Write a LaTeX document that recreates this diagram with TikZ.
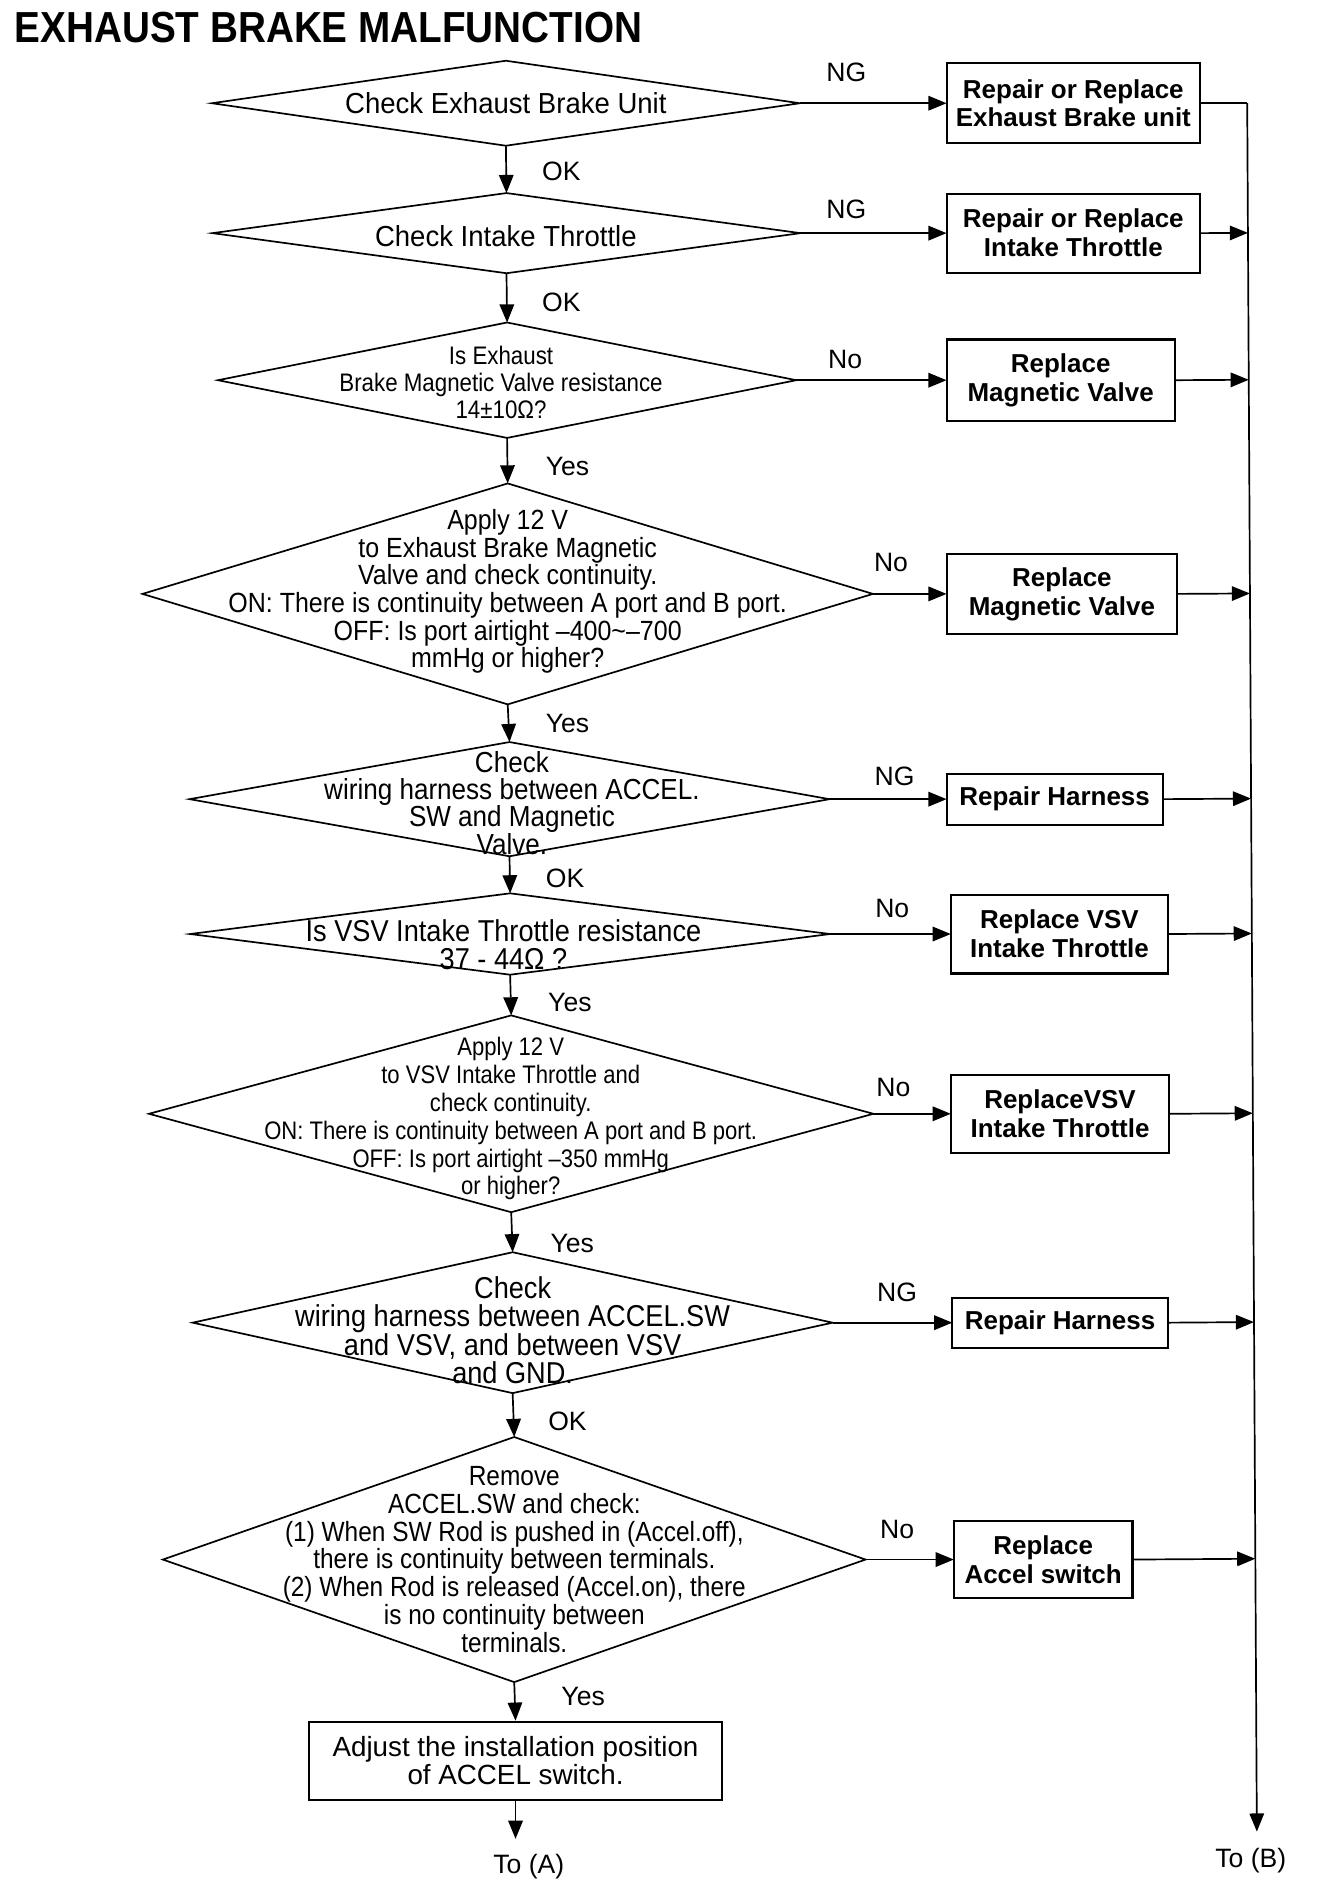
\documentclass[tikz,border=0pt]{standalone}
\usepackage{fontspec}
\setmainfont{Liberation Sans}
\newfontfamily\fA[FakeStretch=0.95]{Liberation Sans}
\newfontfamily\fB[FakeStretch=0.90]{Liberation Sans}
\newfontfamily\fC[FakeStretch=0.88]{Liberation Sans}
\newfontfamily\fD[FakeStretch=0.87]{Liberation Sans}
\newfontfamily\fT[FakeStretch=0.89]{Liberation Sans}
\usetikzlibrary{arrows.meta,shapes.geometric,calc}
\newcommand\fsz[2]{\fontsize{#1}{#2}\selectfont}
\begin{document}
\begin{tikzpicture}[x=1pt,y=-1pt,
  dia/.style={diamond, draw, line width=1.4pt, inner sep=0pt, outer sep=0pt},
  dtxt/.style={inner sep=0pt, align=center},
  box/.style={draw, line width=1.7pt, inner sep=0pt, outer sep=0pt, align=center,
    font=\bfseries\fsz{21.5}{24}},
  ln/.style={line width=1.4pt},
  arr/.style={line width=1.4pt, -{Triangle[length=15pt,width=12pt]}},
  lab/.style={inner sep=0pt, font=\fsz{22}{22}}]
\useasboundingbox (0,0) rectangle (1100,1577);

% title
\node[inner sep=0pt, anchor=west, font=\fT\bfseries\fsz{36}{36}] (title) at (12,23) {EXHAUST BRAKE MALFUNCTION};

% main column decisions
\node[dia, minimum width=487, minimum height=70.4] (d1) at (419,85.5) {};
\node[dtxt, font=\fA\fsz{24}{24}] (t1) at (419,85.5) {Check Exhaust Brake Unit};

\node[dia, minimum width=487, minimum height=66.4] (d2) at (419.5,193.1) {};
\node[dtxt, font=\fA\fsz{24}{24}] (t2) at (419,195.2) {Check Intake Throttle};

\node[dia, minimum width=479, minimum height=95.6] (d3) at (420,314.9) {};
\node[dtxt, font=\fC\fsz{21}{22.6}] (t3) at (415,316.9) {Is Exhaust\\Brake Magnetic Valve resistance\\14±10Ω?};

\node[dia, minimum width=605, minimum height=183] (d4) at (420.5,491.9) {};
\node[dtxt, font=\fB\fsz{23}{22.9}] (t4) at (420.5,489.9) {Apply 12 V\\to Exhaust Brake Magnetic\\Valve and check continuity.\\ON: There is continuity between A port and B port.\\OFF: Is port airtight –400\textasciitilde–700\\mmHg or higher?};

\node[dia, minimum width=530, minimum height=94.6] (d5) at (422,661.9) {};
\node[dtxt, font=\fB\fsz{24}{22.6}] (t5) at (424,664.9) {Check\\wiring harness between ACCEL.\\SW and Magnetic\\Valve.};

\node[dia, minimum width=530, minimum height=67.4] (d6) at (422.5,773.6) {};
\node[dtxt, font=\fB\fsz{25}{23.1}] (t6) at (417,782.7) {Is VSV Intake Throttle resistance\\37 - 44Ω ?};

\node[dia, minimum width=600, minimum height=163] (d7) at (423.4,922.5) {};
\node[dtxt, font=\fD\fsz{21}{23.1}] (t7) at (423,926.5) {Apply 12 V\\to VSV Intake Throttle and\\check continuity.\\ON: There is continuity between A port and B port.\\OFF: Is port airtight –350 mmHg\\or higher?};

\node[dia, minimum width=530, minimum height=116.7] (d8) at (424.6,1095.5) {};
\node[dtxt, font=\fB\fsz{25}{23.1}] (t8) at (424.6,1101.6) {Check\\wiring harness between ACCEL.SW\\and VSV, and between VSV\\and GND.};

\node[dia, minimum width=582, minimum height=203] (d9) at (425.9,1291.7) {};
\node[dtxt, font=\fC\fsz{23}{23.1}] (t9) at (426,1291.7) {Remove\\ACCEL.SW and check:\\(1) When SW Rod is pushed in (Accel.off),\\there is continuity between terminals.\\(2) When Rod is released (Accel.on), there\\is no continuity between\\terminals.};

\node[draw, line width=1.7pt, inner sep=0pt, align=center, minimum width=342, minimum height=65,
  font=\fsz{23}{23}] (fin) at (427,1458.5) {Adjust the installation position\\of ACCEL switch.};

% right boxes
\node[box, minimum width=210, minimum height=66.4] (b1) at (889,85.5) {Repair or Replace\\Exhaust Brake unit};
\node[box, minimum width=210, minimum height=65.4] (b2) at (889,193.1) {Repair or Replace\\Intake Throttle};
\node[box, minimum width=189, minimum height=67.4] (b3) at (878.5,314.9) {Replace\\Magnetic Valve};
\node[box, minimum width=191, minimum height=66.4] (b4) at (879.5,491.9) {Replace\\Magnetic Valve};
\node[box, minimum width=179, minimum height=42.3] (b5) at (873.5,661.9) {Repair Harness};
\node[box, minimum width=180, minimum height=65.4] (b6) at (877.5,773.6) {Replace VSV\\Intake Throttle};
\node[box, minimum width=181, minimum height=64.4] (b7) at (878,922.5) {ReplaceVSV\\Intake Throttle};
\node[box, minimum width=178.5, minimum height=41.2] (b8) at (878,1095.5) {Repair Harness};
\node[box, minimum width=148, minimum height=63.4] (b9) at (864,1291.7) {Replace\\Accel switch};

% vertical flow
\draw[arr] (d1.south) -- (d2.north);
\draw[arr] (d2.south) -- (d3.north);
\draw[arr] (d3.south) -- (d4.north);
\draw[arr] (d4.south) -- (d5.north);
\draw[arr] (d5.south) -- (d6.north);
\draw[arr] (d6.south) -- (d7.north);
\draw[arr] (d7.south) -- (d8.north);
\draw[arr] (d8.south) -- (d9.north);
\draw[arr] (d9.south) -- (fin.north);
\coordinate (toA) at (427,1523);
\draw[arr] (fin.south) -- (toA);
\node[lab] (ta) at (438,1546) {To (A)};

\node[lab] at (465,141.8) {OK};
\node[lab] at (465,250.5) {OK};
\node[lab] at (470,386.3) {Yes};
\node[lab] at (470,599.6) {Yes};
\node[lab] at (468,727.3) {OK};
\node[lab] at (472,829.9) {Yes};
\node[lab] at (474,1030.1) {Yes};
\node[lab] at (470,1177) {OK};
\node[lab] at (483,1405.4) {Yes};

% side branches
\draw[arr] (d1.east) -- (b1.west);
\draw[arr] (d2.east) -- (b2.west);
\draw[arr] (d3.east) -- (b3.west);
\draw[arr] (d4.east) -- (b4.west);
\draw[arr] (d5.east) -- (b5.west);
\draw[arr] (d6.east) -- (b6.west);
\draw[arr] (d7.east) -- (b7.west);
\draw[arr] (d8.east) -- (b8.west);
\draw[arr] (d9.east) -- (b9.west);

\node[lab] at (701,60.3) {NG};
\node[lab] at (701,173) {NG};
\node[lab] at (700,297.8) {No};
\node[lab] at (738,465.8) {No};
\node[lab] at (741,642.8) {NG};
\node[lab] at (739,752.5) {No};
\node[lab] at (740,900.4) {No};
\node[lab] at (743,1070.4) {NG};
\node[lab] at (743,1266.5) {No};

% bus to (B)
\coordinate (busT) at (1033,85.5);
\coordinate (busB) at (1041,1517);
\draw[ln] (b1.east) -- (busT);
\draw[arr] (busT) -- (busB);
\foreach \b in {b2,b3,b4,b5,b6,b7,b8,b9}
  \draw[arr] (\b.east) -- ($(busT)!(\b.east)!(busB)$);
\node[lab] (tb) at (1036,1541) {To (B)};
\end{tikzpicture}
\end{document}
